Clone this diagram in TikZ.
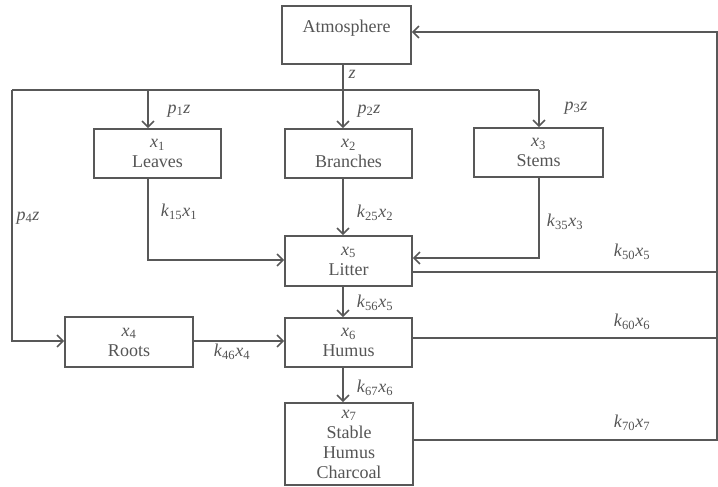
\documentclass[tikz,border=0pt]{standalone}
\usepackage{fontspec}
\setmainfont{Liberation Serif}
\usetikzlibrary{arrows.meta}
\definecolor{ink}{HTML}{585858}
\definecolor{txt}{HTML}{555555}
\newcommand\mv[2]{\textit{#1}\textsubscript{#2}}
\tikzset{
  box/.style={draw=ink, line width=1.7pt, fill=white, align=center, text=txt,
    inner sep=0pt, font=\fontsize{18}{20}\selectfont},
  conn/.style={draw=ink, line width=1.7pt},
  arr/.style={conn, -{Straight Barb[length=6pt,width=12pt,line width=1.6pt]}},
  lbl/.style={text=txt, inner sep=0pt, font=\fontsize{18}{20}\selectfont}
}
\begin{document}
\begin{tikzpicture}[x=1pt,y=-1pt]
\useasboundingbox (0,0) rectangle (718,487);
% boxes
\node[box, minimum width=129, minimum height=58, text height=12pt, text depth=16pt] (atm) at (346.5,35) {Atmosphere};
\node[box, minimum width=127, minimum height=49] (leaves) at (157.5,153.5) {\mv{x}{1}\\Leaves};
\node[box, minimum width=127, minimum height=49] (branches) at (348.5,153.5) {\mv{x}{2}\\Branches};
\node[box, minimum width=129, minimum height=49] (stems) at (538.5,152.5) {\mv{x}{3}\\Stems};
\node[box, minimum width=127, minimum height=50] (litter) at (348.5,261) {\mv{x}{5}\\Litter};
\node[box, minimum width=128, minimum height=50] (roots) at (129,342) {\mv{x}{4}\\Roots};
\node[box, minimum width=127, minimum height=49] (humus) at (348.5,342.5) {\mv{x}{6}\\Humus};
\node[box, minimum width=128, minimum height=82] (stable) at (349,444) {\mv{x}{7}\\Stable\\Humus\\Charcoal};
% coordinates
\coordinate (tl) at (12,90);
\coordinate (tr) at (539,90);
\coordinate (tm) at (343,90);
\coordinate (tleaf) at (148,90);
\coordinate (lc) at (12,341);
\coordinate (leafc) at (148,260);
\coordinate (stemc) at (539,258);
\coordinate (rtop) at (717,32);
\coordinate (r5) at (717,272);
\coordinate (r6) at (717,338);
\coordinate (r7) at (717,440);
% connectors
\draw[arr] (atm.south -| tm) -- (branches.north -| tm);
\draw[conn] (tl) -- (tr);
\draw[arr] (tleaf) -- (leaves.north -| tleaf);
\draw[arr] (tr) -- (stems.north -| tr);
\draw[arr] (tl) -- (lc) -- (roots.west |- lc);
\draw[arr] (leaves.south -| leafc) -- (leafc) -- (litter.west |- leafc);
\draw[arr] (branches.south -| tm) -- (litter.north -| tm);
\draw[arr] (stems.south -| stemc) -- (stemc) -- (litter.east |- stemc);
\draw[conn] (litter.east |- r5) -- (r5);
\draw[arr] (litter.south -| tm) -- (humus.north -| tm);
\draw[arr] (roots.east |- lc) -- (humus.west |- lc);
\draw[conn] (humus.east |- r6) -- (r6);
\draw[arr] (humus.south -| tm) -- (stable.north -| tm);
\draw[arr] (stable.east |- r7) -- (r7) -- (rtop) -- (atm.east |- rtop);
% labels
\node[lbl] (lz) at (352,74) {\textit{z}};
\node[lbl] (lp1) at (179,111) {\mv{p}{1}\textit{z}};
\node[lbl] (lp2) at (369,111) {\mv{p}{2}\textit{z}};
\node[lbl] (lp3) at (576,108) {\mv{p}{3}\textit{z}};
\node[lbl] (lp4) at (28,218) {\mv{p}{4}\textit{z}};
\node[lbl] (lk15) at (179,212) {\mv{k}{15}\mv{x}{1}};
\node[lbl] (lk25) at (375,213) {\mv{k}{25}\mv{x}{2}};
\node[lbl] (lk35) at (565,222) {\mv{k}{35}\mv{x}{3}};
\node[lbl] (lk50) at (632,252) {\mv{k}{50}\mv{x}{5}};
\node[lbl] (lk56) at (375,303) {\mv{k}{56}\mv{x}{5}};
\node[lbl] (lk46) at (232,352) {\mv{k}{46}\mv{x}{4}};
\node[lbl] (lk60) at (632,322) {\mv{k}{60}\mv{x}{6}};
\node[lbl] (lk67) at (375,388) {\mv{k}{67}\mv{x}{6}};
\node[lbl] (lk70) at (632,423) {\mv{k}{70}\mv{x}{7}};
\end{tikzpicture}
\end{document}
